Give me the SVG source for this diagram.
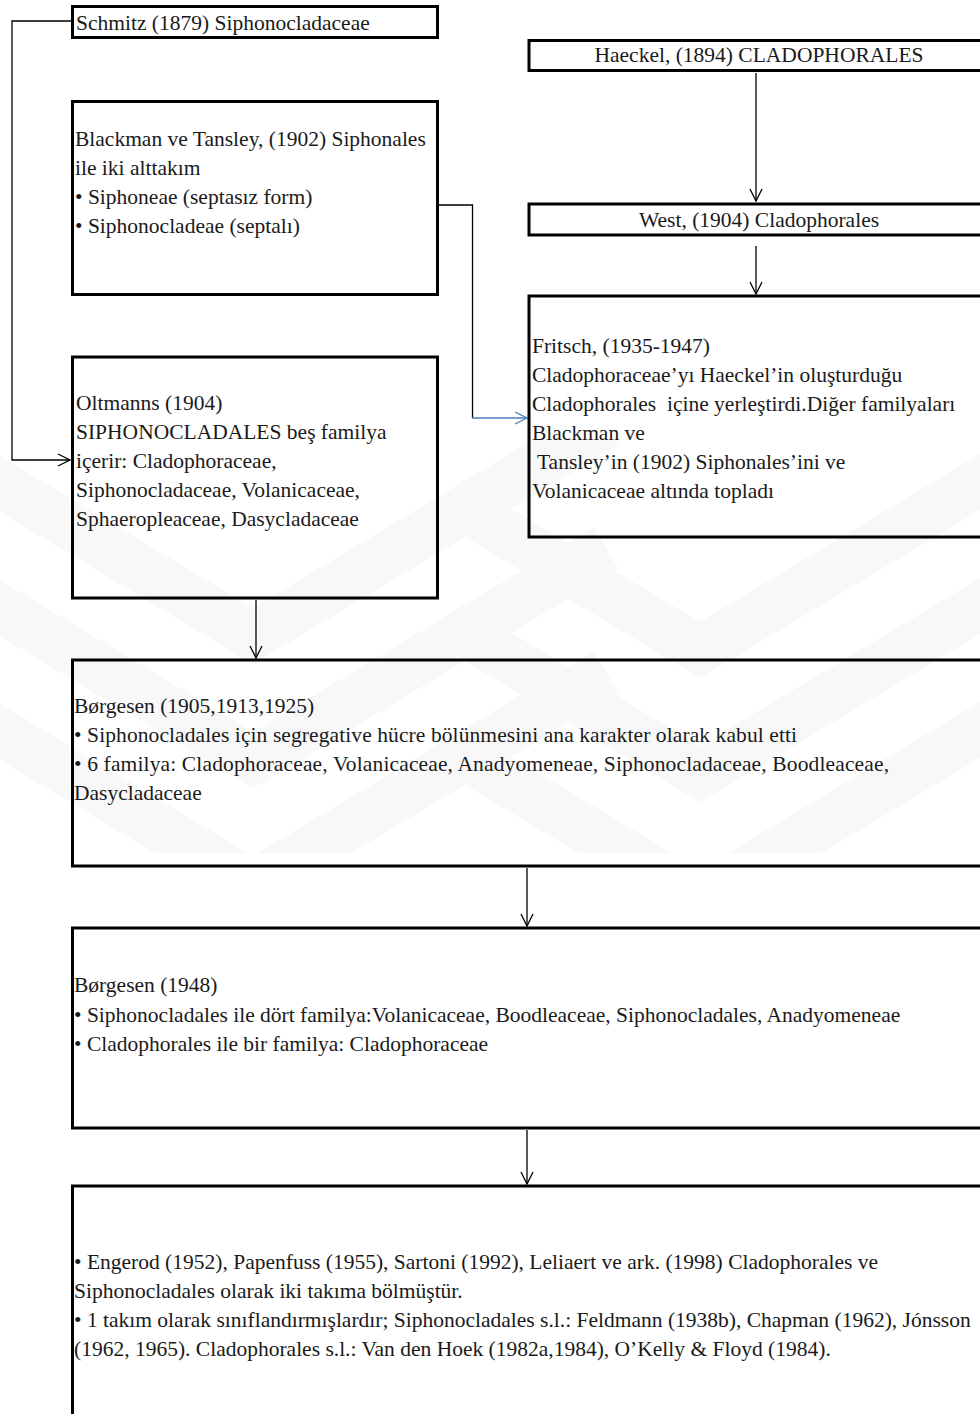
<svg xmlns="http://www.w3.org/2000/svg" width="980" height="1414" viewBox="0 0 980 1414">
<style>
  .box { fill: none; stroke: #000; stroke-width: 3; }
  .t { font-family: "Liberation Serif", "Times New Roman", serif; font-size: 21.5px; fill: #1a1a1a; white-space: pre; }
  .c { text-anchor: middle; }
  .ln { fill: none; stroke: #000; stroke-width: 1.3; }
  .blue { fill: none; stroke: #4a7ebf; stroke-width: 1.3; }
  .wm { fill: none; stroke: #f8f8f8; stroke-width: 48; }
</style>
<defs>
  <marker id="ah" markerUnits="userSpaceOnUse" markerWidth="14" markerHeight="14" refX="12" refY="6" orient="auto" overflow="visible">
    <path d="M0,0 L12,6 L0,12" fill="none" stroke="#000" stroke-width="1.3"/>
  </marker>
  <marker id="ahb" markerUnits="userSpaceOnUse" markerWidth="14" markerHeight="14" refX="12" refY="6" orient="auto" overflow="visible">
    <path d="M0,0 L12,6 L0,12" fill="none" stroke="#4a7ebf" stroke-width="1.3"/>
  </marker>
  <clipPath id="wmclip">
    <rect x="0" y="440" width="980" height="413"/>
  </clipPath>
</defs>
<rect width="980" height="1414" fill="#fff"/>

<g id="watermark" clip-path="url(#wmclip)">
  <polyline class="wm" points="-100,424 253,636 606,424"/>
  <polyline class="wm" points="-100,548 253,760 606,548"/>
  <polyline class="wm" points="-100,672 253,884 606,672"/>
  <polyline class="wm" points="450,500 700,650 1000,470"/>
  <polyline class="wm" points="450,624 700,774 1000,594"/>
  <polyline class="wm" points="450,748 700,898 1000,718"/>
</g>

<g id="connectors">
  <path class="ln" d="M71,21 H12 V460 H70" marker-end="url(#ah)"/>
  <path class="ln" d="M439,205 H472.5 V418"/>
  <path class="blue" d="M472,418 H527" marker-end="url(#ahb)"/>
  <path class="ln" d="M756,73 V201" marker-end="url(#ah)"/>
  <path class="ln" d="M756,246 V294" marker-end="url(#ah)"/>
  <path class="ln" d="M256,600 V658" marker-end="url(#ah)"/>
  <path class="ln" d="M527,868 V926" marker-end="url(#ah)"/>
  <path class="ln" d="M527,1130 V1184" marker-end="url(#ah)"/>
</g>

<g id="schmitz">
  <rect class="box" x="72.5" y="6.5" width="365" height="31"/>
  <text class="t" x="76" y="30">Schmitz (1879) Siphonocladaceae</text>
</g>

<g id="blackman">
  <rect class="box" x="72.5" y="101.5" width="365" height="193"/>
  <text class="t" x="75" y="146">Blackman ve Tansley, (1902) Siphonales</text>
  <text class="t" x="75" y="175">ile iki alttakım</text>
  <text class="t" x="75" y="204">• Siphoneae (septasız form)</text>
  <text class="t" x="75" y="233">• Siphonocladeae (septalı)</text>
</g>

<g id="oltmanns">
  <rect class="box" x="72.5" y="357" width="365" height="241"/>
  <text class="t" x="76" y="410">Oltmanns (1904)</text>
  <text class="t" x="76" y="439">SIPHONOCLADALES beş familya</text>
  <text class="t" x="76" y="468">içerir: Cladophoraceae,</text>
  <text class="t" x="76" y="497">Siphonocladaceae, Volanicaceae,</text>
  <text class="t" x="76" y="526">Sphaeropleaceae, Dasycladaceae</text>
</g>

<g id="haeckel">
  <rect class="box" x="529" y="40.5" width="470" height="30"/>
  <text class="t c" x="759" y="62">Haeckel, (1894) CLADOPHORALES</text>
</g>

<g id="west">
  <rect class="box" x="529" y="204" width="470" height="31"/>
  <text class="t c" x="759" y="227">West, (1904) Cladophorales</text>
</g>

<g id="fritsch">
  <rect class="box" x="529" y="296" width="470" height="241"/>
  <text class="t" x="532" y="353">Fritsch, (1935-1947)</text>
  <text class="t" x="532" y="382">Cladophoraceae’yı Haeckel’in oluşturduğu</text>
  <text class="t" x="532" y="411">Cladophorales  içine yerleştirdi.Diğer familyaları</text>
  <text class="t" x="532" y="440">Blackman ve</text>
  <text class="t" x="532" y="469"> Tansley’in (1902) Siphonales’ini ve</text>
  <text class="t" x="532" y="498">Volanicaceae altında topladı</text>
</g>

<g id="borgesen1">
  <rect class="box" x="72.5" y="660" width="920" height="206"/>
  <text class="t" x="74" y="713">Børgesen (1905,1913,1925)</text>
  <text class="t" x="74" y="742" textLength="723" lengthAdjust="spacing">• Siphonocladales için segregative hücre bölünmesini ana karakter olarak kabul etti</text>
  <text class="t" x="74" y="771" textLength="815" lengthAdjust="spacing">• 6 familya: Cladophoraceae, Volanicaceae, Anadyomeneae, Siphonocladaceae, Boodleaceae,</text>
  <text class="t" x="74" y="800">Dasycladaceae</text>
</g>

<g id="borgesen2">
  <rect class="box" x="72.5" y="928" width="920" height="200"/>
  <text class="t" x="74" y="992">Børgesen (1948)</text>
  <text class="t" x="74" y="1022">• Siphonocladales ile dört familya:Volanicaceae, Boodleaceae, Siphonocladales, Anadyomeneae</text>
  <text class="t" x="74" y="1051">• Cladophorales ile bir familya: Cladophoraceae</text>
</g>

<g id="final">
  <rect class="box" x="72.5" y="1186" width="920" height="300"/>
  <text class="t" x="74" y="1269">• Engerod (1952), Papenfuss (1955), Sartoni (1992), Leliaert ve ark. (1998) Cladophorales ve</text>
  <text class="t" x="74" y="1298">Siphonocladales olarak iki takıma bölmüştür.</text>
  <text class="t" x="74" y="1327">• 1 takım olarak sınıflandırmışlardır; Siphonocladales s.l.: Feldmann (1938b), Chapman (1962), Jónsson</text>
  <text class="t" x="74" y="1356">(1962, 1965). Cladophorales s.l.: Van den Hoek (1982a,1984), O’Kelly &amp; Floyd (1984).</text>
</g>
</svg>
